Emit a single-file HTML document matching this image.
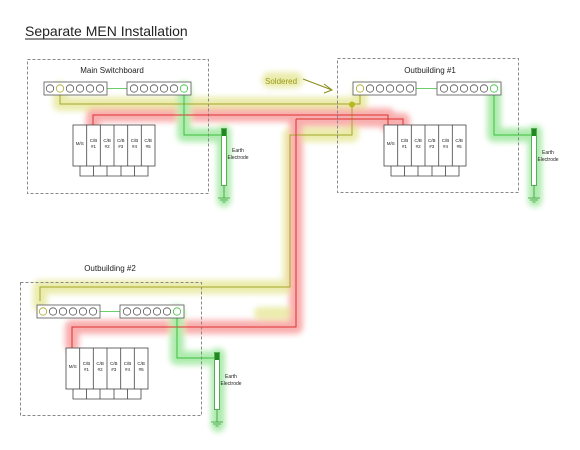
<!DOCTYPE html>
<html><head><meta charset="utf-8"><style>
html,body{margin:0;padding:0;background:#fff;}
svg{display:block;font-family:"Liberation Sans",sans-serif;}
</style></head><body>
<svg width="580" height="450" viewBox="0 0 580 450" xmlns="http://www.w3.org/2000/svg">
<defs>
<filter id="b" x="-20%" y="-20%" width="140%" height="140%"><feGaussianBlur stdDeviation="3"/></filter>
</defs>
<rect width="580" height="450" fill="#fff"/>
<text x="25" y="36" font-size="14" fill="#222">Separate MEN Installation</text>
<line x1="25" y1="39" x2="183" y2="39" stroke="#222" stroke-width="1"/>

<!-- highlights -->
<g filter="url(#b)" fill="none" stroke-linecap="round" stroke-linejoin="round" opacity="0.42">
 <path d="M60,89 V104 H352 V135 H290 V287 H40 V305" stroke="#cfd23a" stroke-width="14"/>
 <path d="M360,90 V104 H352" stroke="#cfd23a" stroke-width="14"/>
 <path d="M270,80 H295" stroke="#cfd23a" stroke-width="16"/>
 <path d="M260,313 H290" stroke="#cfd23a" stroke-width="12"/>
 <path d="M93,128 V115 H388 V125" stroke="#f04040" stroke-width="14"/>
 <path d="M296,120 H403 V128" stroke="#f04040" stroke-width="14"/>
 <path d="M296,120 V327 H72 V345" stroke="#f04040" stroke-width="14"/>
 <path d="M184,89 V135 H222 M224,132 V200" stroke="#40d040" stroke-width="14"/>
 <path d="M494,89 V135 H533 M535,132 V200" stroke="#40d040" stroke-width="14"/>
 <path d="M177,312 V358 H216 M218,355 V425" stroke="#40d040" stroke-width="14"/>
</g>

<!-- boxes -->
<g fill="none" stroke="#888" stroke-dasharray="3,2" stroke-width="1">
 <rect x="27.5" y="59.5" width="181" height="134"/>
 <rect x="337.5" y="58.5" width="181" height="134"/>
 <rect x="20.5" y="282.5" width="181" height="133"/>
</g>
<text x="112" y="73" font-size="8" text-anchor="middle" fill="#222">Main Switchboard</text>
<text x="430" y="73" font-size="8" text-anchor="middle" fill="#222">Outbuilding #1</text>
<text x="110" y="271" font-size="8" text-anchor="middle" fill="#222">Outbuilding #2</text>

<!-- wires -->
<g fill="none" stroke-width="1">
 <path d="M60,93 V104 H352 V135 H290 V287 H40 V301" stroke="#a6a62a"/>
 <path d="M360,93 V104 H352" stroke="#a6a62a"/>
 <path d="M93,125 V115 H388 V125" stroke="#e03030"/>
 <path d="M296,119 H403 V125" stroke="#e03030"/>
 <path d="M296,119 V327 H72 V348" stroke="#e03030"/>
 <path d="M184,93 V135 H222" stroke="#3ac03a"/>
 <path d="M494,93 V135 H533" stroke="#3ac03a"/>
 <path d="M177,316 V358 H216" stroke="#3ac03a"/>
</g>
<circle cx="352" cy="104.5" r="3" fill="#b8b820"/>
<text x="265" y="84" font-size="8" fill="#9a9a1a">Soldered</text>
<path d="M303,79 L332,90 M324,84 L332,90 L324,93" fill="none" stroke="#8a8a1a" stroke-width="1"/>

<!-- bars -->
<g transform="translate(44,82)" fill="#fff" stroke="#555" stroke-width="0.8">
 <line x1="60" y1="6.5" x2="87" y2="6.5" stroke="#3ac03a"/>
 <rect x="0" y="0" width="63" height="13"/><rect x="83" y="0" width="64" height="13"/>
 <circle cx="6" cy="6.5" r="3.7"/><circle cx="16" cy="6.5" r="3.7" stroke="#a6a62a"/><circle cx="26" cy="6.5" r="3.7"/><circle cx="36" cy="6.5" r="3.7"/><circle cx="46" cy="6.5" r="3.7"/><circle cx="56" cy="6.5" r="3.7"/>
 <circle cx="90" cy="6.5" r="3.7"/><circle cx="100" cy="6.5" r="3.7"/><circle cx="110" cy="6.5" r="3.7"/><circle cx="120" cy="6.5" r="3.7"/><circle cx="130" cy="6.5" r="3.7"/><circle cx="140" cy="6.5" r="3.7" stroke="#3ac03a"/>
</g>
<g transform="translate(353,82)" fill="#fff" stroke="#555" stroke-width="0.8">
 <line x1="60" y1="6.5" x2="87" y2="6.5" stroke="#3ac03a"/>
 <rect x="0" y="0" width="63" height="13"/><rect x="84" y="0" width="64" height="13"/>
 <circle cx="7" cy="6.5" r="3.7" stroke="#a6a62a"/><circle cx="17" cy="6.5" r="3.7"/><circle cx="27" cy="6.5" r="3.7"/><circle cx="37" cy="6.5" r="3.7"/><circle cx="47" cy="6.5" r="3.7"/><circle cx="57" cy="6.5" r="3.7"/>
 <circle cx="91" cy="6.5" r="3.7"/><circle cx="101" cy="6.5" r="3.7"/><circle cx="111" cy="6.5" r="3.7"/><circle cx="121" cy="6.5" r="3.7"/><circle cx="131" cy="6.5" r="3.7"/><circle cx="141" cy="6.5" r="3.7" stroke="#3ac03a"/>
</g>
<g transform="translate(37,305)" fill="#fff" stroke="#555" stroke-width="0.8">
 <line x1="60" y1="6.5" x2="87" y2="6.5" stroke="#3ac03a"/>
 <rect x="0" y="0" width="63" height="13"/><rect x="83" y="0" width="64" height="13"/>
 <circle cx="6" cy="6.5" r="3.7" stroke="#a6a62a"/><circle cx="16" cy="6.5" r="3.7"/><circle cx="26" cy="6.5" r="3.7"/><circle cx="36" cy="6.5" r="3.7"/><circle cx="46" cy="6.5" r="3.7"/><circle cx="56" cy="6.5" r="3.7"/>
 <circle cx="90" cy="6.5" r="3.7"/><circle cx="100" cy="6.5" r="3.7"/><circle cx="110" cy="6.5" r="3.7"/><circle cx="120" cy="6.5" r="3.7"/><circle cx="130" cy="6.5" r="3.7"/><circle cx="140" cy="6.5" r="3.7" stroke="#3ac03a"/>
</g>

<!-- breakers -->
<g transform="translate(73,125)">
 <g fill="#fff" stroke="#444" stroke-width="0.8">
  <rect x="0" y="0" width="82" height="41"/>
  <path d="M13.7,0V41M27.3,0V41M41,0V41M54.7,0V41M68.3,0V41"/>
  <path d="M7,41V51H75V41M20.5,41V51M34,41V51M48,41V51M61.5,41V51" fill="none"/>
 </g>
 <g font-size="4.5" fill="#222" text-anchor="middle">
  <text x="6.8" y="20">M/S</text>
  <text x="20.5" y="17">C/B</text><text x="20.5" y="23">#1</text>
  <text x="34.1" y="17">C/B</text><text x="34.1" y="23">#2</text>
  <text x="47.8" y="17">C/B</text><text x="47.8" y="23">#3</text>
  <text x="61.5" y="17">C/B</text><text x="61.5" y="23">#4</text>
  <text x="75.1" y="17">C/B</text><text x="75.1" y="23">#5</text>
 </g>
</g>
<g transform="translate(384,125)">
 <g fill="#fff" stroke="#444" stroke-width="0.8">
  <rect x="0" y="0" width="82" height="41"/>
  <path d="M13.7,0V41M27.3,0V41M41,0V41M54.7,0V41M68.3,0V41"/>
  <path d="M7,41V51H75V41M20.5,41V51M34,41V51M48,41V51M61.5,41V51" fill="none"/>
 </g>
 <g font-size="4.5" fill="#222" text-anchor="middle">
  <text x="6.8" y="20">M/S</text>
  <text x="20.5" y="17">C/B</text><text x="20.5" y="23">#1</text>
  <text x="34.1" y="17">C/B</text><text x="34.1" y="23">#2</text>
  <text x="47.8" y="17">C/B</text><text x="47.8" y="23">#3</text>
  <text x="61.5" y="17">C/B</text><text x="61.5" y="23">#4</text>
  <text x="75.1" y="17">C/B</text><text x="75.1" y="23">#5</text>
 </g>
</g>
<g transform="translate(66,348)">
 <g fill="#fff" stroke="#444" stroke-width="0.8">
  <rect x="0" y="0" width="82" height="41"/>
  <path d="M13.7,0V41M27.3,0V41M41,0V41M54.7,0V41M68.3,0V41"/>
  <path d="M7,41V51H75V41M20.5,41V51M34,41V51M48,41V51M61.5,41V51" fill="none"/>
 </g>
 <g font-size="4.5" fill="#222" text-anchor="middle">
  <text x="6.8" y="20">M/S</text>
  <text x="20.5" y="17">C/B</text><text x="20.5" y="23">#1</text>
  <text x="34.1" y="17">C/B</text><text x="34.1" y="23">#2</text>
  <text x="47.8" y="17">C/B</text><text x="47.8" y="23">#3</text>
  <text x="61.5" y="17">C/B</text><text x="61.5" y="23">#4</text>
  <text x="75.1" y="17">C/B</text><text x="75.1" y="23">#5</text>
 </g>
</g>

<!-- earth electrodes -->
<g transform="translate(221,128)">
 <rect x="0.5" y="0.5" width="5" height="57" fill="#fff" stroke="#3a9a3a" stroke-width="0.8"/>
 <rect x="1" y="1" width="4" height="7" fill="#1e8a1e"/>
 <path d="M3,58V70M-3,70H9M-1,72H7M1.5,74H4.5" stroke="#3a9a3a" stroke-width="0.8" fill="none"/>
 <text x="17" y="24" font-size="5" fill="#222" text-anchor="middle">Earth</text>
 <text x="17" y="31" font-size="5" fill="#222" text-anchor="middle">Electrode</text>
</g>
<g transform="translate(531,128)">
 <rect x="0.5" y="0.5" width="5" height="57" fill="#fff" stroke="#3a9a3a" stroke-width="0.8"/>
 <rect x="1" y="1" width="4" height="7" fill="#1e8a1e"/>
 <path d="M3,58V70M-3,70H9M-1,72H7M1.5,74H4.5" stroke="#3a9a3a" stroke-width="0.8" fill="none"/>
 <text x="17" y="26" font-size="5" fill="#222" text-anchor="middle">Earth</text>
 <text x="17" y="33" font-size="5" fill="#222" text-anchor="middle">Electrode</text>
</g>
<g transform="translate(214,352)">
 <rect x="0.5" y="0.5" width="5" height="57" fill="#fff" stroke="#3a9a3a" stroke-width="0.8"/>
 <rect x="1" y="1" width="4" height="7" fill="#1e8a1e"/>
 <path d="M3,58V70M-3,70H9M-1,72H7M1.5,74H4.5" stroke="#3a9a3a" stroke-width="0.8" fill="none"/>
 <text x="17" y="26" font-size="5" fill="#222" text-anchor="middle">Earth</text>
 <text x="17" y="33" font-size="5" fill="#222" text-anchor="middle">Electrode</text>
</g>
</svg>
</body></html>
